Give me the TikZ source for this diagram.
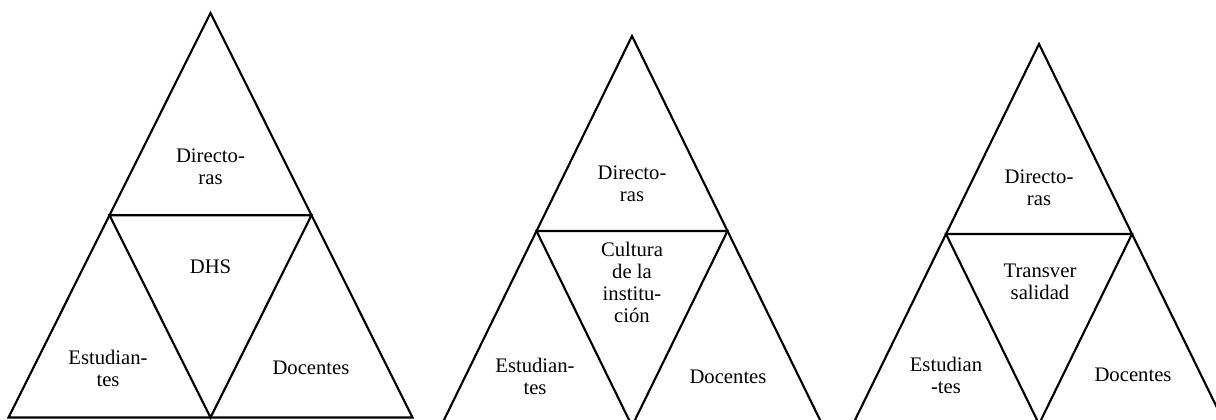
\documentclass[tikz,border=0pt]{standalone}
\usepackage{fontspec}
\setmainfont{Liberation Serif}

\tikzset{
  side/.style={line width=1.6pt},
  lbl/.style={align=center, inner sep=0pt, font=\fontsize{15.5}{16.5}\selectfont},
}

\begin{document}
\begin{tikzpicture}[x=0.75pt, y=-0.75pt]
            \clip (0, 0) rectangle (1216, 419);
            % first triangle
            \coordinate (a1) at (210.5, 13);
            \coordinate (l1) at (8.5, 417.5);
            \coordinate (r1) at (412.5, 417.5);
            \coordinate (ml1) at (109.5, 215.25);
            \coordinate (mr1) at (311.5, 215.25);
            \coordinate (mb1) at (210.5, 417.5);
            \draw[side] (a1)--(l1)--(r1)--cycle;
            \draw[side] (ml1)--(mr1)--(mb1)--cycle;
            \node[lbl] (dir1) at (210.5, 167) {Directo-\\ras};
            \node[lbl] (mid1) at (210.5, 267) {DHS};
            \node[lbl] (est1) at (108, 368) {Estudian-\\tes};
            \node[lbl] (doc1) at (311, 368) {Docentes};
            % second triangle
            \coordinate (a2) at (632, 36);
            \coordinate (l2) at (441, 426);
            \coordinate (r2) at (823, 426);
            \coordinate (ml2) at (536.5, 231);
            \coordinate (mr2) at (727.5, 231);
            \coordinate (mb2) at (632, 426);
            \draw[side] (a2)--(l2)--(r2)--cycle;
            \draw[side] (ml2)--(mr2)--(mb2)--cycle;
            \node[lbl] (dir2) at (632, 184) {Directo-\\ras};
            \node[lbl] (mid2) at (632, 282) {Cultura\\de la\\institu-\\ción};
            \node[lbl] (est2) at (535, 376) {Estudian-\\tes};
            \node[lbl] (doc2) at (728, 377) {Docentes};
            % third triangle
            \coordinate (a3) at (1039, 44);
            \coordinate (l3) at (853, 424);
            \coordinate (r3) at (1225, 424);
            \coordinate (ml3) at (946, 234);
            \coordinate (mr3) at (1132, 234);
            \coordinate (mb3) at (1039, 424);
            \draw[side] (a3)--(l3)--(r3)--cycle;
            \draw[side] (ml3)--(mr3)--(mb3)--cycle;
            \node[lbl] (dir3) at (1039, 188) {Directo-\\ras};
            \node[lbl] (mid3) at (1040, 282) {Transver\\salidad};
            \node[lbl] (est3) at (946, 375) {Estudian\\-tes};
            \node[lbl] (doc3) at (1133, 375) {Docentes};
        \end{tikzpicture}
\end{document}
